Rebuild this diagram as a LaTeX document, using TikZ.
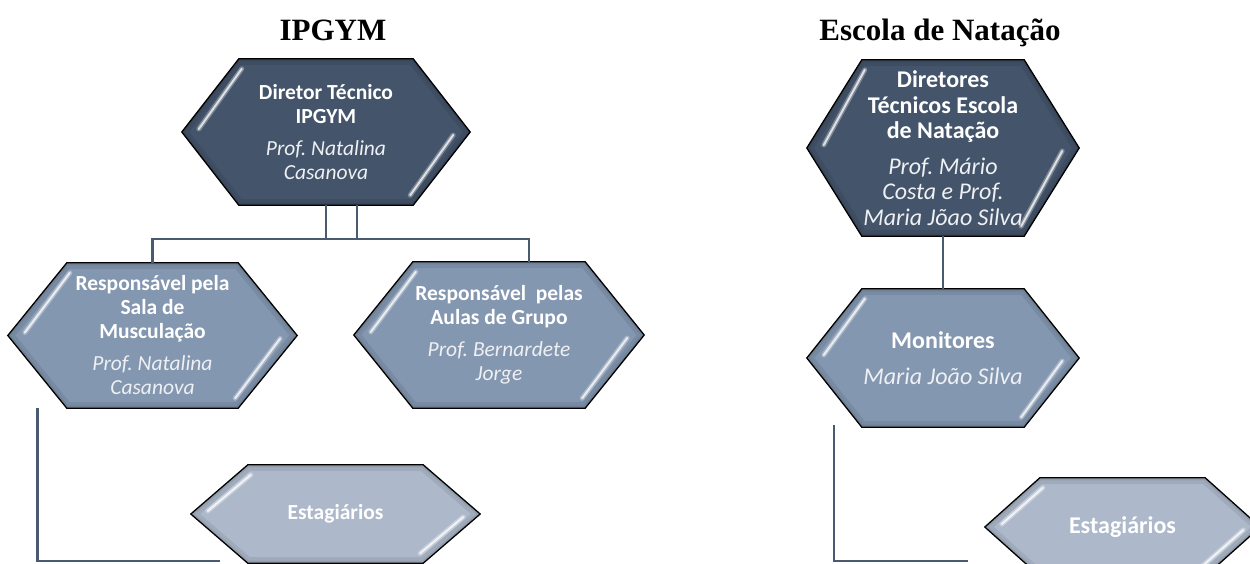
\documentclass[tikz,border=0pt]{standalone}
\usepackage{fontspec}
\setmainfont{Carlito}
\newfontfamily\titlefont{Liberation Serif}
\usetikzlibrary{positioning,calc,backgrounds}

\definecolor{escuro}{HTML}{44546A}
\definecolor{medio}{HTML}{8497B0}
\definecolor{claro}{HTML}{ADB9CA}
\definecolor{linha}{HTML}{4A5A70}
\definecolor{italico}{HTML}{EEF0F3}

\tikzset{
  caixa/.style={inner sep=0pt, align=center, text=white,
    font=\fontsize{21.5}{24}\selectfont},
  caixagrande/.style={caixa, font=\fontsize{24}{25.5}\selectfont},
  titulo/.style={anchor=base, inner sep=0pt,
    font=\titlefont\bfseries\fontsize{31}{31}\selectfont},
  conn/.style={draw=linha, line width=2.2pt},
  brilho/.style={draw=white, line cap=round}
}

% contorno do hexágono a partir do nó
\newcommand{\hexpath}[2]{(#1.west) -- ([xshift=#2]#1.north west) -- ([xshift=-#2]#1.north east)
  -- (#1.east) -- ([xshift=-#2]#1.south east) -- ([xshift=#2]#1.south west) -- cycle}

% hexágono com sombra interior e brilhos
\newcommand{\hexagono}[3]{%
  \fill[#3] \hexpath{#1}{#2};
  \begin{scope}
    \clip \hexpath{#1}{#2};
    \draw[#3!70!black, line width=12pt, opacity=.25] \hexpath{#1}{#2};
    \draw[#3!70!black, line width=5pt, opacity=.3] \hexpath{#1}{#2};
  \end{scope}
  \draw[black, line width=1.3pt, line join=miter] \hexpath{#1}{#2};
  \draw[brilho, line width=5pt, opacity=.3] ($([xshift=#2]#1.north west)+(3,10)$) -- ($(#1.west)+(17,-3)$);
  \draw[brilho, line width=2pt, opacity=.75] ($([xshift=#2]#1.north west)+(3,10)$) -- ($(#1.west)+(17,-3)$);
  \draw[brilho, line width=5pt, opacity=.3] ($(#1.east)+(-17,3)$) -- ($([xshift=-#2]#1.south east)+(-3,-10)$);
  \draw[brilho, line width=2pt, opacity=.75] ($(#1.east)+(-17,3)$) -- ($([xshift=-#2]#1.south east)+(-3,-10)$);
}

\begin{document}
\begin{tikzpicture}[x=1pt, y=-1pt]
  \useasboundingbox (0,0) rectangle (1250,563);

  % títulos
  \node[titulo] (tipgym) at (333,40) {IPGYM};
  \node[titulo] (tnat) at (940,40) {Escola de Natação};

  % IPGYM
  \node[caixa, minimum width=288, minimum height=146] (dir) at (326,132)
    {\textbf{Diretor Técnico}\\\textbf{IPGYM}\\[8pt]
     \textcolor{italico}{\textit{Prof.\ Natalina}}\\\textcolor{italico}{\textit{Casanova}}};
  \node[caixa, minimum width=289, minimum height=145] (sala) at (152.5,335.5)
    {\textbf{Responsável pela}\\\textbf{Sala de}\\\textbf{Musculação}\\[8pt]
     \textcolor{italico}{\textit{Prof.\ Natalina}}\\\textcolor{italico}{\textit{Casanova}}};
  \node[caixa, minimum width=290, minimum height=146] (aulas) at (499,335)
    {\textbf{Responsável\ \ pelas}\\\textbf{Aulas de Grupo}\\[8pt]
     \textcolor{italico}{\textit{Prof.\ Bernardete}}\\\textcolor{italico}{\textit{Jorge}}};
  \node[caixa, minimum width=289, minimum height=98] (est1) at (335.5,514)
    {\textbf{Estagiários}};

  % Escola de Natação
  \node[caixagrande, minimum width=272, minimum height=176] (dirnat) at (943,148)
    {\textbf{Diretores}\\\textbf{Técnicos Escola}\\\textbf{de Natação}\\[10pt]
     \textcolor{italico}{\textit{Prof.\ Mário}}\\\textcolor{italico}{\textit{Costa e Prof.}}\\
     \textcolor{italico}{\textit{Maria Jõao Silva}}};
  \node[caixagrande, minimum width=272, minimum height=138] (mon) at (943,358)
    {\textbf{Monitores}\\[10pt]\textcolor{italico}{\textit{Maria João Silva}}};
  \node[caixagrande, minimum width=275, minimum height=98] (est2) at (1122.5,527)
    {\textbf{Estagiários}};

  % hexágonos atrás do texto
  \begin{scope}[on background layer]
    \hexagono{dir}{57}{escuro}
    \hexagono{sala}{59}{medio}
    \hexagono{aulas}{59}{medio}
    \hexagono{est1}{57}{claro}
    \hexagono{dirnat}{55}{escuro}
    \hexagono{mon}{55}{medio}
    \hexagono{est2}{55}{claro}
  \end{scope}

  % ligações
  \draw[conn] ([xshift=31]dir.south) -- ++(0,34) -| (sala.north);
  \draw[conn] (dir.south) -- ++(0,34) -| ([xshift=30]aulas.north);
  \draw[conn] (dirnat.south) -- (mon.north);

  \coordinate (c1) at ([xshift=-115]sala.south);
  \coordinate (c2) at (220,561);
  \draw[conn] (c1) |- (c2);
  \coordinate (c3) at ([xshift=-109,yshift=2]mon.south);
  \coordinate (c4) at (968,561);
  \draw[conn] (c3) |- (c4);
\end{tikzpicture}
\end{document}
